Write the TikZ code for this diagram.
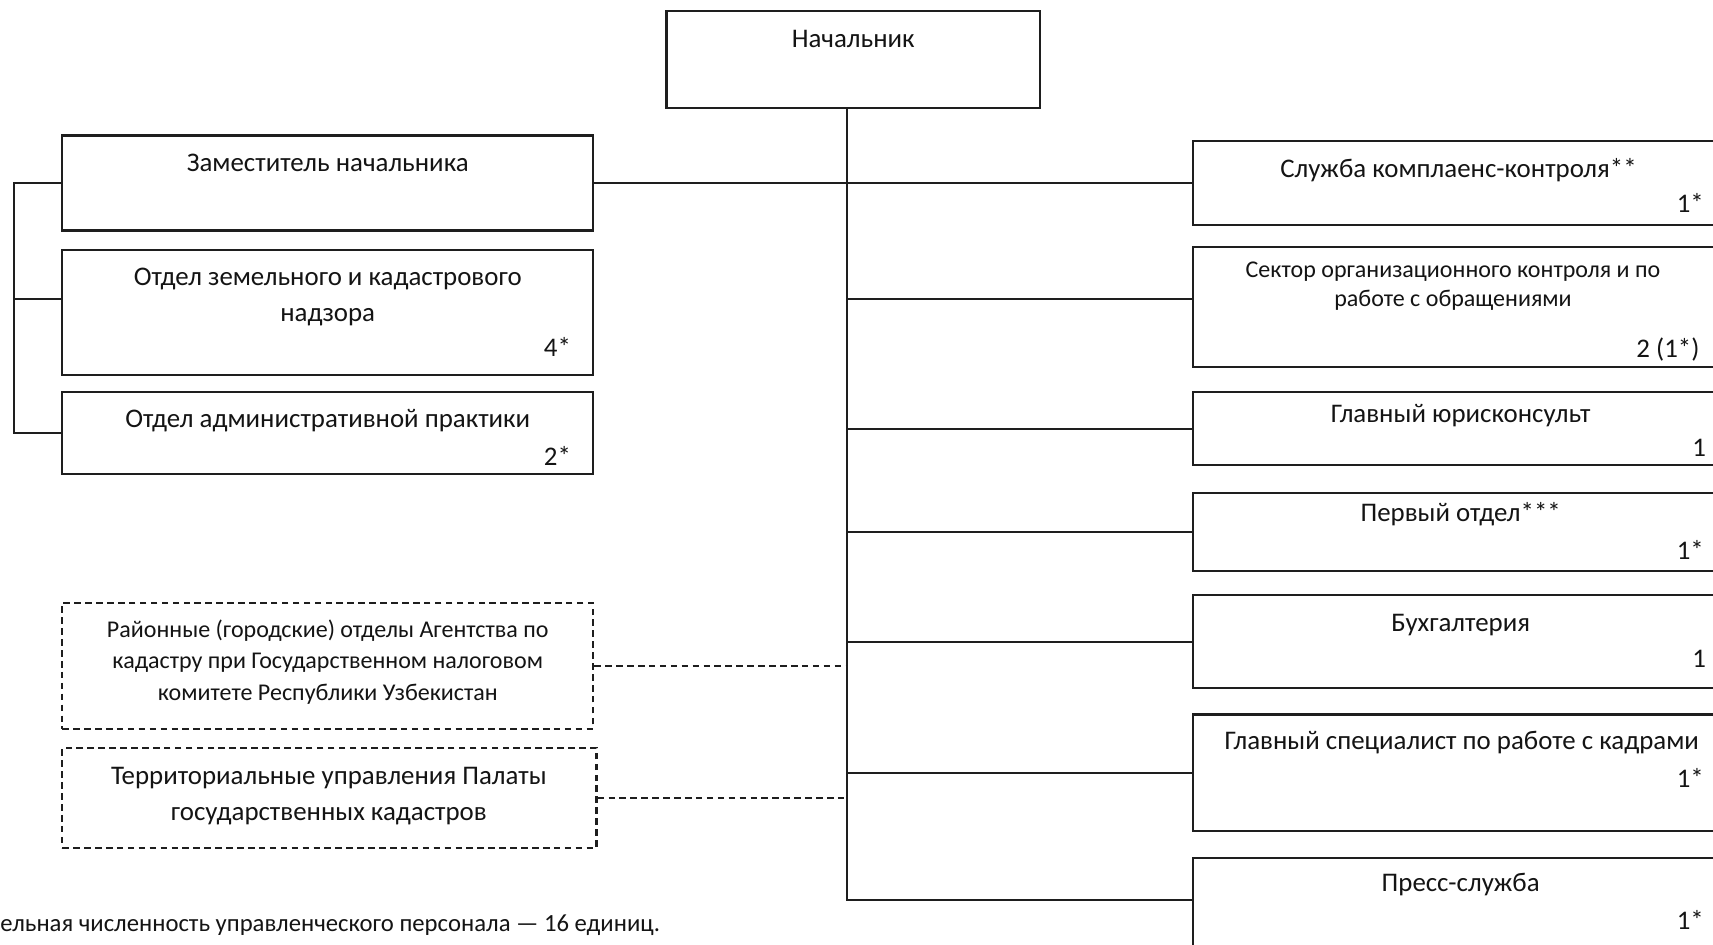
\documentclass[tikz,border=0pt]{standalone}
\usepackage{fontspec}
\setmainfont{Carlito}
\usetikzlibrary{fit,calc}
\definecolor{linec}{HTML}{1E1E1E}
\definecolor{txtc}{HTML}{141414}
\begin{document}
\begin{tikzpicture}[x=0.5pt,y=-0.5pt,
  solidbox/.style={draw=linec, line width=1pt, inner sep=0pt, rectangle},
  dashbox/.style={solidbox, dash pattern=on 3pt off 2pt},
  conn/.style={draw=linec, line width=1pt},
  dashconn/.style={conn, dash pattern=on 3pt off 2pt},
  lbl/.style={font=\fontsize{12.3}{16.5}\selectfont, text=txtc, inner sep=0pt},
  smalltxt/.style={font=\fontsize{11}{14.5}\selectfont, text=txtc, inner sep=0pt},
  sectxt/.style={font=\fontsize{11}{13}\selectfont, text=txtc, inner sep=0pt},
  num/.style={lbl, anchor=east},
  foot/.style={font=\fontsize{11.3}{13}\selectfont, text=txtc, inner sep=0pt}]
\useasboundingbox (0,0) rectangle (1568,865);
\fill[white] (0,0) rectangle (1568,865);

% head
\node[solidbox, fit={(610,10) (952,99)}] (nach) {};
\node[lbl] (tnach) at (781,36) {Начальник};

% left solid boxes
\node[solidbox, fit={(57,124) (543,211)}] (zam) {};
\node[lbl] (tzam) at (300,149) {Заместитель начальника};
\node[solidbox, fit={(57,229) (543,343)}] (zem) {};
\node[lbl, align=center] (tzem) at (300,272) {Отдел земельного и кадастрового\\надзора};
\node[num] (nzem) at (523,318) {4*};
\node[solidbox, fit={(57,359) (543,434)}] (adm) {};
\node[lbl] (tadm) at (300,385) {Отдел административной практики};
\node[num] (nadm) at (523,417) {2*};

% left dashed boxes
\node[dashbox, fit={(57,552) (543,667)}] (ray) {};
\node[smalltxt, align=center] (tray) at (300,606) {Районные (городские) отделы Агентства по\\кадастру при Государственном налоговом\\комитете Республики Узбекистан};
\node[dashbox, fit={(57,685) (546,776)}] (ter) {};
\node[lbl, align=center] (tter) at (301,728.5) {Территориальные управления Палаты\\государственных кадастров};

% right boxes
\node[solidbox, fit={(1092,129) (1580,206)}] (sl) {};
\node[lbl] (tsl) at (1335,156) {Служба комплаенс-контроля**};
\node[num] (nsl) at (1560,186) {1*};
\node[solidbox, fit={(1092,226) (1580,336)}] (sek) {};
\node[sectxt, align=center] (tsek) at (1330,262) {Сектор организационного контроля и по\\работе с обращениями};
\node[num] (nsek) at (1556,320) {2 (1*)};
\node[solidbox, fit={(1092,359) (1580,426)}] (yur) {};
\node[lbl] (tyur) at (1337,380) {Главный юрисконсульт};
\node[num] (nyur) at (1562,410) {1};
\node[solidbox, fit={(1092,451) (1580,523)}] (perv) {};
\node[lbl] (tperv) at (1337,471) {Первый отдел***};
\node[num] (nperv) at (1560,503) {1*};
\node[solidbox, fit={(1092,545) (1580,630)}] (buh) {};
\node[lbl] (tbuh) at (1337,572) {Бухгалтерия};
\node[num] (nbuh) at (1562,603) {1};
\node[solidbox, fit={(1092,654) (1580,761)}] (kad) {};
\node[lbl] (tkad) at (1338,680) {Главный специалист по работе с кадрами};
\node[num] (nkad) at (1560,712) {1*};
\node[solidbox, fit={(1092,785) (1580,890)}] (press) {};
\node[lbl] (tpress) at (1337,810) {Пресс-служба};
\node[num] (npress) at (1560,842) {1*};

% footnote
\node[foot, anchor=west] (fn) at (0,847) {ельная численность управленческого персонала — 16 единиц.};

% trunk and connectors
\coordinate (ttop) at ($(nach.south)+(-6,0)$);
\coordinate (tbot) at ($(press.north west)+(0,40)$);
\draw[conn] (ttop) -- (ttop |- tbot) -- (tbot);
\draw[conn] (zam.east) -- (sl.west);
\coordinate (seky) at ($(sek.north west)+(0,49)$);
\draw[conn] (ttop |- seky) -- (seky);
\draw[conn] (ttop |- yur.west) -- (yur.west);
\draw[conn] (ttop |- perv.west) -- (perv.west);
\draw[conn] (ttop |- buh.west) -- (buh.west);
\draw[conn] (ttop |- kad.west) -- (kad.west);
\draw[dashconn] (ray.east) -- (ray.east -| ttop);
\draw[dashconn] (ter.east) -- (ter.east -| ttop);

% left bracket
\coordinate (brk) at (13,167);
\coordinate (zemt) at ($(zem.north west)+(0,46)$);
\draw[conn] (zam.west) -- (zam.west -| brk) -- (adm.west -| brk) -- (adm.west);
\draw[conn] (zemt -| brk) -- (zemt);
\end{tikzpicture}
\end{document}
